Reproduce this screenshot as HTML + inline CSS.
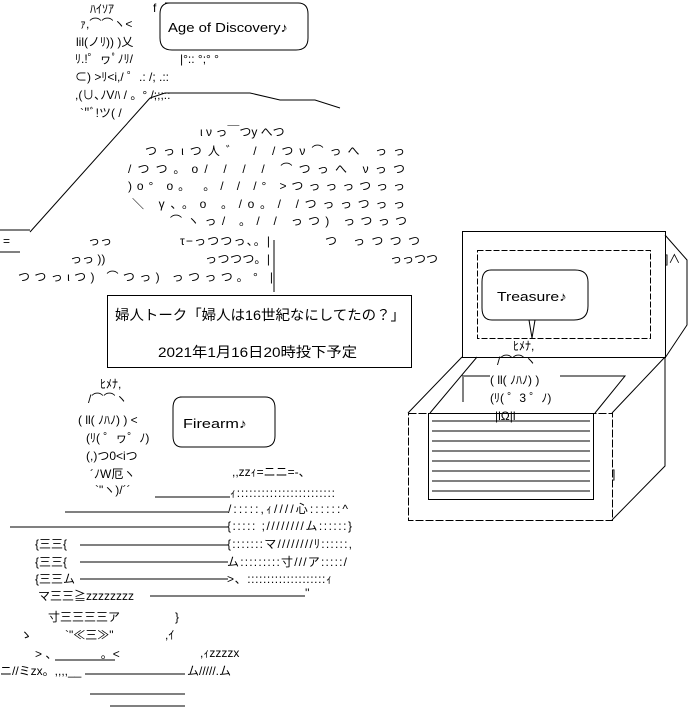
<!DOCTYPE html>
<html><head><meta charset="utf-8"><style>
html,body{margin:0;padding:0;background:#fff;width:693px;height:726px;overflow:hidden}
svg{display:block}
text{font-family:"Liberation Sans","Noto Sans CJK JP",sans-serif;font-size:12px;fill:#000}
.s{font-size:13px}
</style></head><body>
<svg width="693" height="726" viewBox="0 0 693 726" xmlns="http://www.w3.org/2000/svg">
<g fill="none" stroke="#000" stroke-width="1">
<path d="M165 3 H298 Q308 3 308 14 V38 Q308 50 296 50 H172 Q160 50 160 38 V14 Q160 3 170 3"/>
<path d="M180 397 H265 Q275 397 275 408 V436 Q275 447 264 447 H182 Q173 447 173 436 V408 Q173 397 182 397"/>
<rect x="107.5" y="295.5" width="304" height="72"/>
<rect x="462.5" y="231.5" width="203" height="126"/>
<rect x="477.5" y="250.5" width="173" height="88" stroke-dasharray="6,2"/>
<path d="M491 270 H575 Q588 270 588 282 V306 Q588 320 574 320 H492 Q482 320 482 308 V282 Q482 270 491 270"/>
<path d="M529 320 L532 338 L535 320"/>
<path d="M665 235 L687 260 V325 L665 358"/>
<path d="M462 357 L408 413 M477 357 L430 413 M463 377 V402 M665 357 L612 413 M665 357 V466 L612 520"/>
<path d="M462 376 H490 M560 376 H625 L595 413"/>
<rect x="408.5" y="413.5" width="204" height="107" stroke-dasharray="8,2"/>
<rect x="428.5" y="413.5" width="165" height="86"/>
<path d="M432 421H590M432 431H590M432 441H590M432 451H590M432 461H590M432 471H590M432 481H590M432 491H590"/>
<path d="M150 98 L30 232 M0 230 H30 M0 252 H20 M150 98 L165 93 H250 L280 100 H315 L340 108"/>
<path d="M274 240 V292"/>
<path d="M155 497 H230 M65 512 H228 M10 527 H228 M80 545 H228 M80 562 H228 M80 579 H228 M150 596 H305 M55 660 H115 M85 674 H185 M90 694 H185 M110 706 H185"/>
</g>
<text x="168" y="32" style="font-size:13px" textLength="120" lengthAdjust="spacingAndGlyphs">Age of Discovery♪</text>
<text x="183" y="428" style="font-size:13px" textLength="64" lengthAdjust="spacingAndGlyphs">Firearm♪</text>
<text x="497" y="301" style="font-size:13px" textLength="70" lengthAdjust="spacingAndGlyphs">Treasure♪</text>
<text x="115" y="320" style="font-size:14px" textLength="290" lengthAdjust="spacingAndGlyphs">婦人トーク「婦人は16世紀なにしてたの？」</text>
<text x="158" y="357" style="font-size:14px" textLength="199" lengthAdjust="spacingAndGlyphs">2021年1月16日20時投下予定</text>
<g class="s">
<text x="90" y="13">ﾊｲｿｱ</text><text x="80" y="28">ｧ,⌒⌒ヽ&lt;</text><text x="153" y="12">f</text>
<text x="76" y="46">lil(ノﾘ)) )乂</text><text x="75" y="63">ﾘ.!゜ヮﾟﾉﾘ/</text><text x="180" y="63">|°:: °;° °</text>
<text x="75" y="81">⊂) &gt;ﾘ&lt;i,/  ゜.: /; .::</text><text x="75" y="99">,(∪､ﾉVﾊ /  。° /;;;::</text>
<text x="80" y="117">`"ﾞ!ツ( /</text><text x="200" y="136">ι ν っ￣つy へつ</text>
<text x="145" y="155" textLength="260">つっιつ人゛ /  /つν⌒っへ  っっ</text><text x="128" y="173" textLength="277">/つつ。o/ / / /  ⌒つっへ νっつ</text>
<text x="128" y="190" textLength="277">)o° o。  。/ /  /° &gt;つっっっつっっ</text><text x="132" y="208" textLength="273">＼ γ、。o 。/o。/  /つっっつっっ</text>
<text x="170" y="225" textLength="237">⌒ヽっ/ 。/   /  っつ)  っつっつ</text>
<text x="3" y="245">=</text><text x="88" y="245">っっ</text><text x="180" y="245" textLength="90">τ−っつつっ、。|</text><text x="325" y="245" textLength="95">つ   っつつつ</text>
<text x="70" y="263">っっ ))</text><text x="205" y="263" textLength="65">っつつつ。|</text><text x="390" y="263">っっつつ</text>
<text x="18" y="281" textLength="255">つつっιつ)  ⌒つっ)   っつっつ。° |</text>
<text x="665" y="263">]∧</text>
<text x="513" y="350">ﾋﾒﾅ,</text><text x="497" y="365">/⌒⌒ヽ</text><text x="490" y="384">( ll( ﾉﾊﾉ) )</text><text x="490" y="402">(ﾘ( ゜3 ゜ﾉ)</text>
<text x="495" y="420">|lΩ|l</text><text x="612" y="478">]</text>
<text x="100" y="388">ﾋﾒﾅ,</text><text x="88" y="403">/⌒⌒ヽ</text><text x="78" y="424">( ll( ﾉﾊﾉ) ) &lt;</text>
<text x="86" y="442">(ﾘ( ゜ヮ゜ﾉ)</text><text x="86" y="460">(,)つ0&lt;iつ</text><text x="90" y="478">´ﾉW厄ヽ</text>
<text x="95" y="494">`"ヽ)/´´</text><text x="232" y="476">,,zzｨ=ニニ=-、</text>
<text x="230" y="497" textLength="105">ｨ::::::::::::::::::::::::</text><text x="228" y="513" textLength="120">/:::::,ｨ////心::::::^</text>
<text x="227" y="530" textLength="125">{::::: ;////////ム::::::}</text><text x="35" y="548">{三三{</text><text x="227" y="548" textLength="125">{:::::::マ////////ﾘ::::::,</text>
<text x="35" y="566">{三三{</text><text x="227" y="566" textLength="120">ム:::::::::寸///ア:::::/</text>
<text x="35" y="583">{三三ム</text><text x="227" y="583" textLength="105">&gt;、::::::::::::::::::::ｨ</text>
<text x="38" y="600">マ三三≧zzzzzzzz</text><text x="305" y="597">''</text><text x="48" y="621">寸三三三三ア</text><text x="175" y="621">}</text>
<text x="65" y="639">`"≪三≫"</text><text x="165" y="639">,ｲ</text><text x="20" y="639">ゝ</text>
<text x="35" y="658">&gt;  、______  。&lt;</text><text x="200" y="657">,ｨzzzzx</text>
<text x="0" y="675">ニ//ミzx。,,,,__</text><text x="187" y="675">ム/////.ム</text>
<text x="25" y="691">
